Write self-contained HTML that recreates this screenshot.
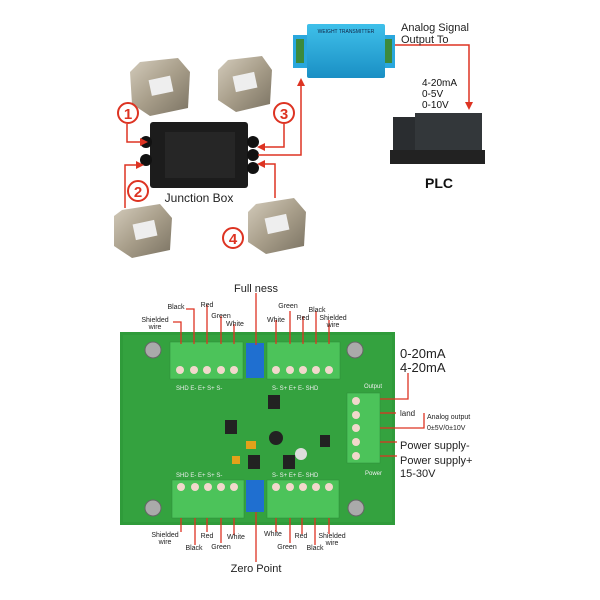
<!DOCTYPE html>
<html><head><style>
body{margin:0;background:#fff;width:600px;height:600px;overflow:hidden}
svg{display:block}
text{font-family:"Liberation Sans",sans-serif}
</style></head><body>
<svg width="600" height="600" viewBox="0 0 600 600">
<defs>
<marker id="ar" markerWidth="8" markerHeight="8" refX="6" refY="4" orient="auto" markerUnits="userSpaceOnUse"><path d="M0,0 L8,4 L0,8z" fill="#d32"/></marker>
<linearGradient id="cell" x1="0" y1="0" x2="1" y2="1"><stop offset="0" stop-color="#d4ccbc"/><stop offset=".5" stop-color="#a89e8a"/><stop offset="1" stop-color="#7a7262"/></linearGradient>
<linearGradient id="blu" x1="0" y1="0" x2="0" y2="1"><stop offset="0" stop-color="#3fc0ea"/><stop offset="1" stop-color="#1a8fc4"/></linearGradient>
</defs>
<!-- load cells -->
<g><polygon points="140,62 178,58 190,72 188,108 150,116 132,104 130,72" fill="url(#cell)"/><rect x="150" y="78" width="22" height="16" fill="#eee" transform="rotate(-12 160 86)"/></g>
<g><polygon points="228,60 262,56 272,70 270,104 236,112 218,100 218,70" fill="url(#cell)"/><rect x="234" y="74" width="22" height="16" fill="#eee" transform="rotate(-12 245 82)"/></g>
<g><polygon points="122,210 160,204 172,218 170,250 132,258 114,246 114,216" fill="url(#cell)"/><rect x="134" y="222" width="22" height="16" fill="#eee" transform="rotate(-12 145 230)"/></g>
<g><polygon points="256,204 294,198 306,212 304,246 266,254 248,242 248,212" fill="url(#cell)"/><rect x="266" y="216" width="22" height="16" fill="#eee" transform="rotate(-12 277 224)"/></g>
<!-- junction box -->
<rect x="150" y="122" width="98" height="66" rx="3" fill="#1c1c1c"/>
<rect x="165" y="132" width="70" height="46" fill="#262626"/>
<ellipse cx="146" cy="142" rx="6" ry="6" fill="#111"/><ellipse cx="146" cy="160" rx="6" ry="6" fill="#111"/>
<ellipse cx="253" cy="142" rx="6" ry="6" fill="#111"/><ellipse cx="253" cy="155" rx="6" ry="6" fill="#111"/><ellipse cx="253" cy="168" rx="6" ry="6" fill="#111"/>
<text x="199" y="202" font-size="12" text-anchor="middle" fill="#222">Junction Box</text>
<!-- red lines -->
<g stroke="#d32" stroke-width="1.5" fill="none">
<polyline points="127,124 127,142 146,142" marker-end="url(#ar)"/>
<polyline points="125,208 125,165 142,165" marker-end="url(#ar)"/>
<polyline points="284,124 284,147 259,147" marker-end="url(#ar)"/>
<polyline points="275,198 275,164 259,164" marker-end="url(#ar)"/>
<polyline points="258,155 301,155 301,80" marker-end="url(#ar)"/>
<polyline points="385,45 469,45 469,108" marker-end="url(#ar)"/>
<circle cx="128" cy="113" r="10" stroke-width="2"/>
<circle cx="284" cy="113" r="10" stroke-width="2"/>
<circle cx="138" cy="191" r="10" stroke-width="2"/>
<circle cx="233" cy="238" r="10" stroke-width="2"/>
</g>
<g fill="#d32" font-size="15" text-anchor="middle" font-weight="bold"><text x="128" y="119">1</text><text x="284" y="119">3</text><text x="138" y="197">2</text><text x="233" y="244">4</text></g>
<!-- transmitter -->
<rect x="293" y="35" width="102" height="33" fill="#2aa7dd"/>
<rect x="296" y="39" width="8" height="24" fill="#3c8a3c"/><rect x="384" y="39" width="8" height="24" fill="#3c8a3c"/>
<rect x="307" y="24" width="78" height="54" rx="2" fill="url(#blu)"/>
<text x="346" y="33" font-size="5" text-anchor="middle" fill="#124">WEIGHT TRANSMITTER</text>
<text x="401" y="31" font-size="11" fill="#222">Analog Signal</text>
<text x="401" y="43" font-size="11" fill="#222">Output To</text>
<text x="422" y="86" font-size="10" fill="#111">4-20mA</text>
<text x="422" y="97" font-size="10" fill="#111">0-5V</text>
<text x="422" y="108" font-size="10" fill="#111">0-10V</text>
<!-- PLC -->
<rect x="393" y="117" width="30" height="45" fill="#2a2d30"/>
<rect x="415" y="113" width="67" height="47" fill="#33373a"/>
<rect x="390" y="150" width="95" height="14" fill="#222"/>
<text x="439" y="188" font-size="14" font-weight="bold" text-anchor="middle" fill="#111">PLC</text>
<!-- PCB -->
<rect x="120" y="332" width="275" height="193" fill="#2f9b3a"/>
<rect x="123" y="335" width="269" height="187" fill="#34a23f"/>
<g fill="#aaa" stroke="#666"><circle cx="153" cy="350" r="8"/><circle cx="355" cy="350" r="8"/><circle cx="153" cy="508" r="8"/><circle cx="356" cy="508" r="8"/></g>
<!-- terminals -->
<g fill="#4cc35a" stroke="#2c8a38" stroke-width=".5">
<rect x="170" y="342" width="73" height="37"/><rect x="267" y="342" width="73" height="37"/>
<rect x="172" y="480" width="72" height="38"/><rect x="267" y="480" width="72" height="38"/>
<rect x="347" y="393" width="33" height="70"/>
</g>
<g fill="#f2d8cc">
<circle cx="180" cy="370" r="4"/><circle cx="194" cy="370" r="4"/><circle cx="207" cy="370" r="4"/><circle cx="221" cy="370" r="4"/><circle cx="234" cy="370" r="4"/>
<circle cx="276" cy="370" r="4"/><circle cx="290" cy="370" r="4"/><circle cx="303" cy="370" r="4"/><circle cx="316" cy="370" r="4"/><circle cx="329" cy="370" r="4"/>
<circle cx="181" cy="487" r="4"/><circle cx="195" cy="487" r="4"/><circle cx="208" cy="487" r="4"/><circle cx="221" cy="487" r="4"/><circle cx="234" cy="487" r="4"/>
<circle cx="276" cy="487" r="4"/><circle cx="290" cy="487" r="4"/><circle cx="303" cy="487" r="4"/><circle cx="316" cy="487" r="4"/><circle cx="329" cy="487" r="4"/>
<circle cx="356" cy="401" r="4"/><circle cx="356" cy="415" r="4"/><circle cx="356" cy="428" r="4"/><circle cx="356" cy="442" r="4"/><circle cx="356" cy="456" r="4"/>
</g>
<rect x="246" y="343" width="18" height="35" fill="#1f6fd0"/><rect x="246" y="480" width="18" height="32" fill="#1f6fd0"/>
<g fill="#222"><rect x="225" y="420" width="12" height="14"/><rect x="268" y="395" width="12" height="14"/><rect x="248" y="455" width="12" height="14"/><rect x="283" y="455" width="12" height="14"/><rect x="320" y="435" width="10" height="12"/><circle cx="276" cy="438" r="7"/><circle cx="301" cy="454" r="6" fill="#ddd"/></g>
<rect x="246" y="441" width="10" height="8" fill="#e2a21a"/><rect x="232" y="456" width="8" height="8" fill="#e2a21a"/>
<g font-size="6" fill="#eee"><text x="176" y="390">SHD E- E+ S+ S-</text><text x="272" y="390">S- S+ E+ E- SHD</text><text x="176" y="477">SHD E- E+ S+ S-</text><text x="272" y="477">S- S+ E+ E- SHD</text><text x="364" y="388">Output</text><text x="365" y="475">Power</text></g>
<!-- red label lines -->
<g stroke="#d32" stroke-width="1.3" fill="none">
<polyline points="181,344 181,322 173,322"/><polyline points="194,344 194,309 186,309"/><polyline points="207,344 207,305"/><polyline points="221,344 221,316"/><polyline points="234,344 234,324"/>
<polyline points="276,344 276,320"/><polyline points="290,344 290,311"/><polyline points="303,344 303,316"/><polyline points="316,344 316,311"/><polyline points="329,344 329,320"/>
<polyline points="181,518 181,532"/><polyline points="195,518 195,545"/><polyline points="207,518 207,532"/><polyline points="221,518 221,543"/><polyline points="234,518 234,535"/>
<polyline points="276,518 276,532"/><polyline points="290,518 290,543"/><polyline points="302,518 302,534"/><polyline points="315,518 315,545"/><polyline points="329,518 329,534"/>
<line x1="256" y1="293" x2="256" y2="345"/><line x1="256" y1="512" x2="256" y2="562"/>
<polyline points="380,399 408,399 408,373"/><polyline points="380,413 396,413"/><polyline points="380,428 424,428 424,413"/><polyline points="380,442 397,442"/><polyline points="380,456 397,456"/>
</g>
<g font-size="7" fill="#222" text-anchor="middle">
<text x="155" y="322">Shielded</text><text x="155" y="329">wire</text><text x="176" y="309">Black</text><text x="207" y="307">Red</text><text x="221" y="318">Green</text><text x="235" y="326">White</text>
<text x="276" y="322">White</text><text x="288" y="308">Green</text><text x="303" y="320">Red</text><text x="317" y="312">Black</text><text x="333" y="320">Shielded</text><text x="333" y="327">wire</text>
<text x="165" y="537">Shielded</text><text x="165" y="544">wire</text><text x="194" y="550">Black</text><text x="207" y="538">Red</text><text x="221" y="549">Green</text><text x="236" y="539">White</text>
<text x="273" y="536">White</text><text x="287" y="549">Green</text><text x="301" y="538">Red</text><text x="315" y="550">Black</text><text x="332" y="538">Shielded</text><text x="332" y="545">wire</text>
</g>
<g fill="#222">
<text x="256" y="292" font-size="11" text-anchor="middle">Full ness</text>
<text x="256" y="572" font-size="11" text-anchor="middle">Zero Point</text>
<text x="400" y="358" font-size="13">0-20mA</text><text x="400" y="372" font-size="13">4-20mA</text>
<text x="400" y="416" font-size="8">land</text>
<text x="427" y="419" font-size="7">Analog output</text><text x="427" y="430" font-size="7">0±5V/0±10V</text>
<text x="400" y="449" font-size="11">Power supply-</text>
<text x="400" y="464" font-size="11">Power supply+</text><text x="400" y="477" font-size="11">15-30V</text>
</g>
</svg>
</body></html>
